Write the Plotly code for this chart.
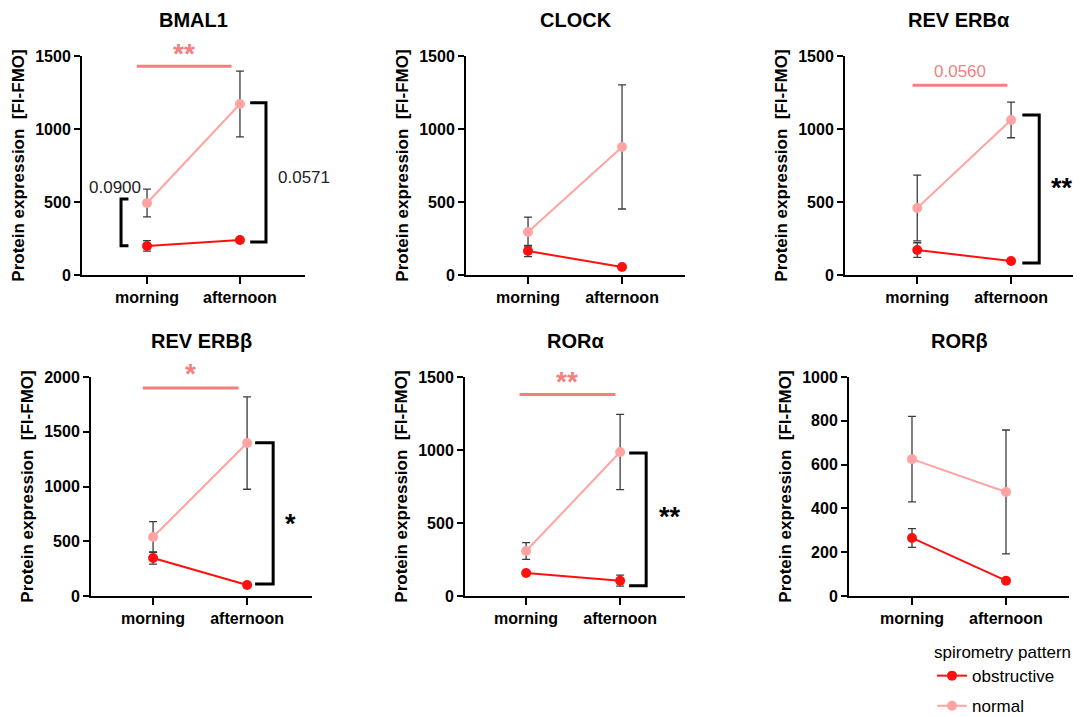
import plotly.graph_objects as go

W, H = 1082, 717
FONT = "Arial, Liberation Sans, sans-serif"

# ---------------- data ----------------
times = ["morning", "afternoon"]
panels = ["BMAL1", "CLOCK", "REV ERBα", "REV ERBβ", "RORα", "RORβ"]

normal_mean = {
    "BMAL1": [493, 1171], "CLOCK": [294, 877], "REV ERBα": [459, 1062],
    "REV ERBβ": [539, 1397], "RORα": [308, 986], "RORβ": [625, 475]}
normal_err = {
    "BMAL1": [95, 225], "CLOCK": [102, 425], "REV ERBα": [225, 122],
    "REV ERBβ": [140, 422], "RORα": [57, 258], "RORβ": [195, 283]}
obstr_mean = {
    "BMAL1": [199, 240], "CLOCK": [164, 55], "REV ERBα": [171, 96],
    "REV ERBβ": [347, 100], "RORα": [158, 105], "RORβ": [265, 70]}
obstr_err = {
    "BMAL1": [36, 12], "CLOCK": [38, 8], "REV ERBα": [50, 8],
    "REV ERBβ": [55, 10], "RORα": [10, 38], "RORβ": [43, 8]}

y_max = {"BMAL1": 1500, "CLOCK": 1500, "REV ERBα": 1500,
         "REV ERBβ": 2000, "RORα": 1500, "RORβ": 1000}
y_dtick = {"BMAL1": 500, "CLOCK": 500, "REV ERBα": 500,
           "REV ERBβ": 500, "RORα": 500, "RORβ": 200}

# time-of-day comparison within normal group: (y, x0, x1, label, label offset px)
time_sig = {
    "BMAL1": (1430, -0.11, 0.91, "**", 11),
    "REV ERBα": (1300, -0.05, 0.96, "0.0560", 12),
    "REV ERBβ": (1900, -0.11, 0.91, "*", 13),
    "RORα": (1380, -0.07, 0.95, "**", 12),
}
# group comparison brackets: (x_vertical, x_tick, y_low, y_high, label, label_x, label_y)
group_sig = {
    "BMAL1": [(-0.28, -0.20, 200, 520, "0.0900", -0.35, 600),
              (1.28, 1.11, 226, 1180, "0.0571", 1.69, 670)],
    "REV ERBα": [(1.30, 1.12, 82, 1096, "**", 1.54, 645)],
    "REV ERBβ": [(1.277, 1.085, 110, 1400, "*", 1.46, 720)],
    "RORα": [(1.277, 1.096, 70, 980, "**", 1.53, 590)],
}

# ---------------- layout geometry (pixels) ----------------
dom_px = {
    "BMAL1": ((82, 305), (56, 275)), "CLOCK": ((466, 685), (56, 275)),
    "REV ERBα": ((845, 1073), (56, 275)), "REV ERBβ": ((91, 312), (377, 596)),
    "RORα": ((465, 685), (377, 596)), "RORβ": ((849, 1069), (377, 596))}
x_rng = {"BMAL1": [-0.70, 1.70], "CLOCK": [-0.66, 1.67], "REV ERBα": [-0.77, 1.66],
         "REV ERBβ": [-0.66, 1.69], "RORα": [-0.65, 1.69], "RORβ": [-0.67, 1.67]}

C_OBS = "#FF1010"
C_NOR = "#FFA3A3"
C_SIG = "#F47F7F"
C_ERR = "#3C3C3C"

fig = go.Figure()
layout = dict(width=W, height=H, margin=dict(l=0, r=0, t=0, b=0, autoexpand=False),
              plot_bgcolor="white", paper_bgcolor="white",
              font=dict(family=FONT, color="black"))
shapes, annots = [], []

for i, p in enumerate(panels):
    n = i + 1
    xa = "x" if n == 1 else f"x{n}"
    ya = "y" if n == 1 else f"y{n}"
    (x0p, x1p), (y0p, y1p) = dom_px[p]
    layout["xaxis" if n == 1 else f"xaxis{n}"] = dict(
        domain=[x0p / W, x1p / W], anchor=ya, range=x_rng[p],
        tickvals=[0, 1], ticktext=times, showgrid=False, zeroline=False,
        showline=True, linecolor="black", linewidth=2, automargin=False,
        ticks="outside", ticklen=7, tickwidth=2, tickcolor="black",
        tickfont=dict(size=16, family=FONT, color="black", weight="bold"))
    layout["yaxis" if n == 1 else f"yaxis{n}"] = dict(
        domain=[1 - y1p / H, 1 - y0p / H], anchor=xa, range=[0, y_max[p]],
        dtick=y_dtick[p], showgrid=False, zeroline=False, automargin=False,
        showline=True, linecolor="black", linewidth=2,
        ticks="outside", ticklen=6, tickwidth=2, tickcolor="black",
        tickfont=dict(size=16, family=FONT, color="black", weight="bold"),
        title=dict(text="Protein expression\u00a0 [FI-FMO]", standoff=6,
                   font=dict(size=17, family=FONT, color="black", weight="bold")))

    fig.add_trace(go.Scatter(
        x=[0, 1], y=normal_mean[p], xaxis=xa, yaxis=ya, mode="lines+markers",
        name="normal", legendgroup="normal", showlegend=(n == 1), legendrank=2,
        line=dict(color=C_NOR, width=2), marker=dict(color=C_NOR, size=10),
        error_y=dict(type="data", array=normal_err[p], color=C_ERR,
                     thickness=1.3, width=4), cliponaxis=False))
    fig.add_trace(go.Scatter(
        x=[0, 1], y=obstr_mean[p], xaxis=xa, yaxis=ya, mode="lines+markers",
        name="obstructive", legendgroup="obstructive", showlegend=(n == 1),
        legendrank=1,
        line=dict(color=C_OBS, width=2), marker=dict(color=C_OBS, size=10),
        error_y=dict(type="data", array=obstr_err[p], color=C_ERR,
                     thickness=1.3, width=4), cliponaxis=False))

    annots.append(dict(text=f"<b>{p}</b>", x=(x0p + x1p) / 2 / W,
                       y=1 - (y0p - 36) / H, xref="paper", yref="paper",
                       showarrow=False, font=dict(size=20, family=FONT, color="black"),
                       xanchor="center", yanchor="middle"))

    if p in time_sig:
        yv, a, b, lab, off = time_sig[p]
        shapes.append(dict(type="line", xref=xa, yref=ya, x0=a, x1=b, y0=yv, y1=yv,
                           line=dict(color=C_SIG, width=3)))
        star = lab.startswith("*")
        annots.append(dict(text=(f"<b>{lab}</b>" if star else lab), x=(a + b) / 2, y=yv,
                           xref=xa, yref=ya, showarrow=False, yanchor="bottom",
                           yshift=(off - 16 if star else off - 10),
                           font=dict(size=(28 if star else 17), family=FONT,
                                     color=C_SIG)))
    for (xv, xt, yl, yh, lab, lx, ly) in group_sig.get(p, []):
        shapes.append(dict(type="path", xref=xa, yref=ya,
                           path=f"M {xt},{yh} L {xv},{yh} L {xv},{yl} L {xt},{yl}",
                           line=dict(color="black", width=3)))
        star = lab.startswith("*")
        annots.append(dict(text=(f"<b>{lab}</b>" if star else lab), x=lx, y=ly,
                           xref=xa, yref=ya, showarrow=False,
                           yshift=(-7 if star else 0),
                           font=dict(size=(27 if star else 17), family=FONT,
                                     color=("black" if star else "#222222"))))

layout["shapes"] = shapes
layout["annotations"] = annots
layout["legend"] = dict(
    x=932 / W, y=1 - 636 / H, xanchor="left", yanchor="top",
    title=dict(text="spirometry pattern", font=dict(size=17, family=FONT)),
    font=dict(size=17, family=FONT, color="black"), bgcolor="rgba(0,0,0,0)",
    traceorder="grouped", tracegroupgap=5, itemwidth=30)
fig.update_layout(**layout)
fig.write_html("out.html")
